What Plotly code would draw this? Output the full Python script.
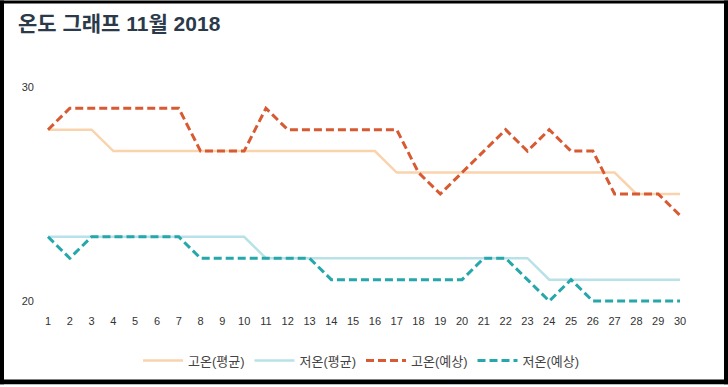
import plotly.graph_objects as go

days = list(range(1, 31))
high_avg = [28, 28, 28, 27, 27, 27, 27, 27, 27, 27, 27, 27, 27, 27, 27, 27, 26, 26, 26, 26,
            26, 26, 26, 26, 26, 26, 26, 25, 25, 25]
low_avg = [23, 23, 23, 23, 23, 23, 23, 23, 23, 23, 22, 22, 22, 22, 22, 22, 22, 22, 22, 22,
           22, 22, 22, 21, 21, 21, 21, 21, 21, 21]
high_fc = [28, 29, 29, 29, 29, 29, 29, 27, 27, 27, 29, 28, 28, 28, 28, 28, 28, 26, 25, 26,
           27, 28, 27, 28, 27, 27, 25, 25, 25, 24]
low_fc = [23, 22, 23, 23, 23, 23, 23, 22, 22, 22, 22, 22, 22, 21, 21, 21, 21, 21, 21, 21,
          22, 22, 21, 20, 21, 20, 20, 20, 20, 20]
names = ["고온(평균)", "저온(평균)", "고온(예상)", "저온(예상)"]
y_ticks = [20, 30]

FONT = "Liberation Sans, Arial, Noto Sans CJK KR, sans-serif"

fig = go.Figure()
fig.add_trace(go.Scatter(x=days, y=high_avg, name=names[0], mode="lines",
                         line=dict(color="#f9d3ad", width=2.5)))
fig.add_trace(go.Scatter(x=days, y=low_avg, name=names[1], mode="lines",
                         line=dict(color="#b9e1e8", width=2.5)))
fig.add_trace(go.Scatter(x=days, y=high_fc, name=names[2], mode="lines",
                         line=dict(color="#d85a33", width=3, dash="8px,4px")))
fig.add_trace(go.Scatter(x=days, y=low_fc, name=names[3], mode="lines",
                         line=dict(color="#25a7ab", width=3, dash="8px,4px")))

W, H = 728, 387
ml, mr, mt, mb = 40, 40, 70, 77
pw, ph = W - ml - mr, H - mt - mb

def px(x):
    return (x - ml) / pw

def py(y):
    return 1 - (y - mt) / ph

border = []
for (x0, y0, x1, y1) in [(0, 0, W, 3), (0, 382, W, H), (0, 0, 4, H), (724, 0, W, H)]:
    border.append(dict(type="rect", xref="paper", yref="paper",
                       x0=px(x0), x1=px(x1), y0=py(y1), y1=py(y0),
                       fillcolor="black", line=dict(width=0), layer="above"))

fig.update_layout(
    width=W, height=H,
    margin=dict(l=ml, r=mr, t=mt, b=mb),
    paper_bgcolor="white", plot_bgcolor="white",
    font=dict(family=FONT, size=11, color="#333"),
    title=dict(text="<b>온도 그래프 11월 2018</b>", x=18 / W, xanchor="left",
               y=1 - 24 / H, yanchor="middle",
               font=dict(family=FONT, size=21, color="#2b3a4a")),
    xaxis=dict(range=[1 - 8 / 21.79, 30 + 8 / 21.79], tickmode="array", tickvals=days,
               showgrid=False, zeroline=False, showline=False, ticks="",
               ticklabelstandoff=5, tickfont=dict(size=11, color="#333")),
    yaxis=dict(range=[20 - 7 / 21.6, 30 + 17 / 21.6], tickmode="array", tickvals=y_ticks,
               showgrid=False, zeroline=False, showline=False, ticks="",
               ticklabelstandoff=5, tickfont=dict(size=11, color="#333")),
    showlegend=True,
    legend=dict(orientation="h", x=0.5 + (361 - 364) / pw, xanchor="center",
                y=py(363), yanchor="middle",
                font=dict(size=13, color="#444"), itemwidth=40),
    shapes=border,
)

fig.write_html("out.html", config={"displayModeBar": False},
               post_script="document.body.style.margin='0';document.body.style.padding='0';")
